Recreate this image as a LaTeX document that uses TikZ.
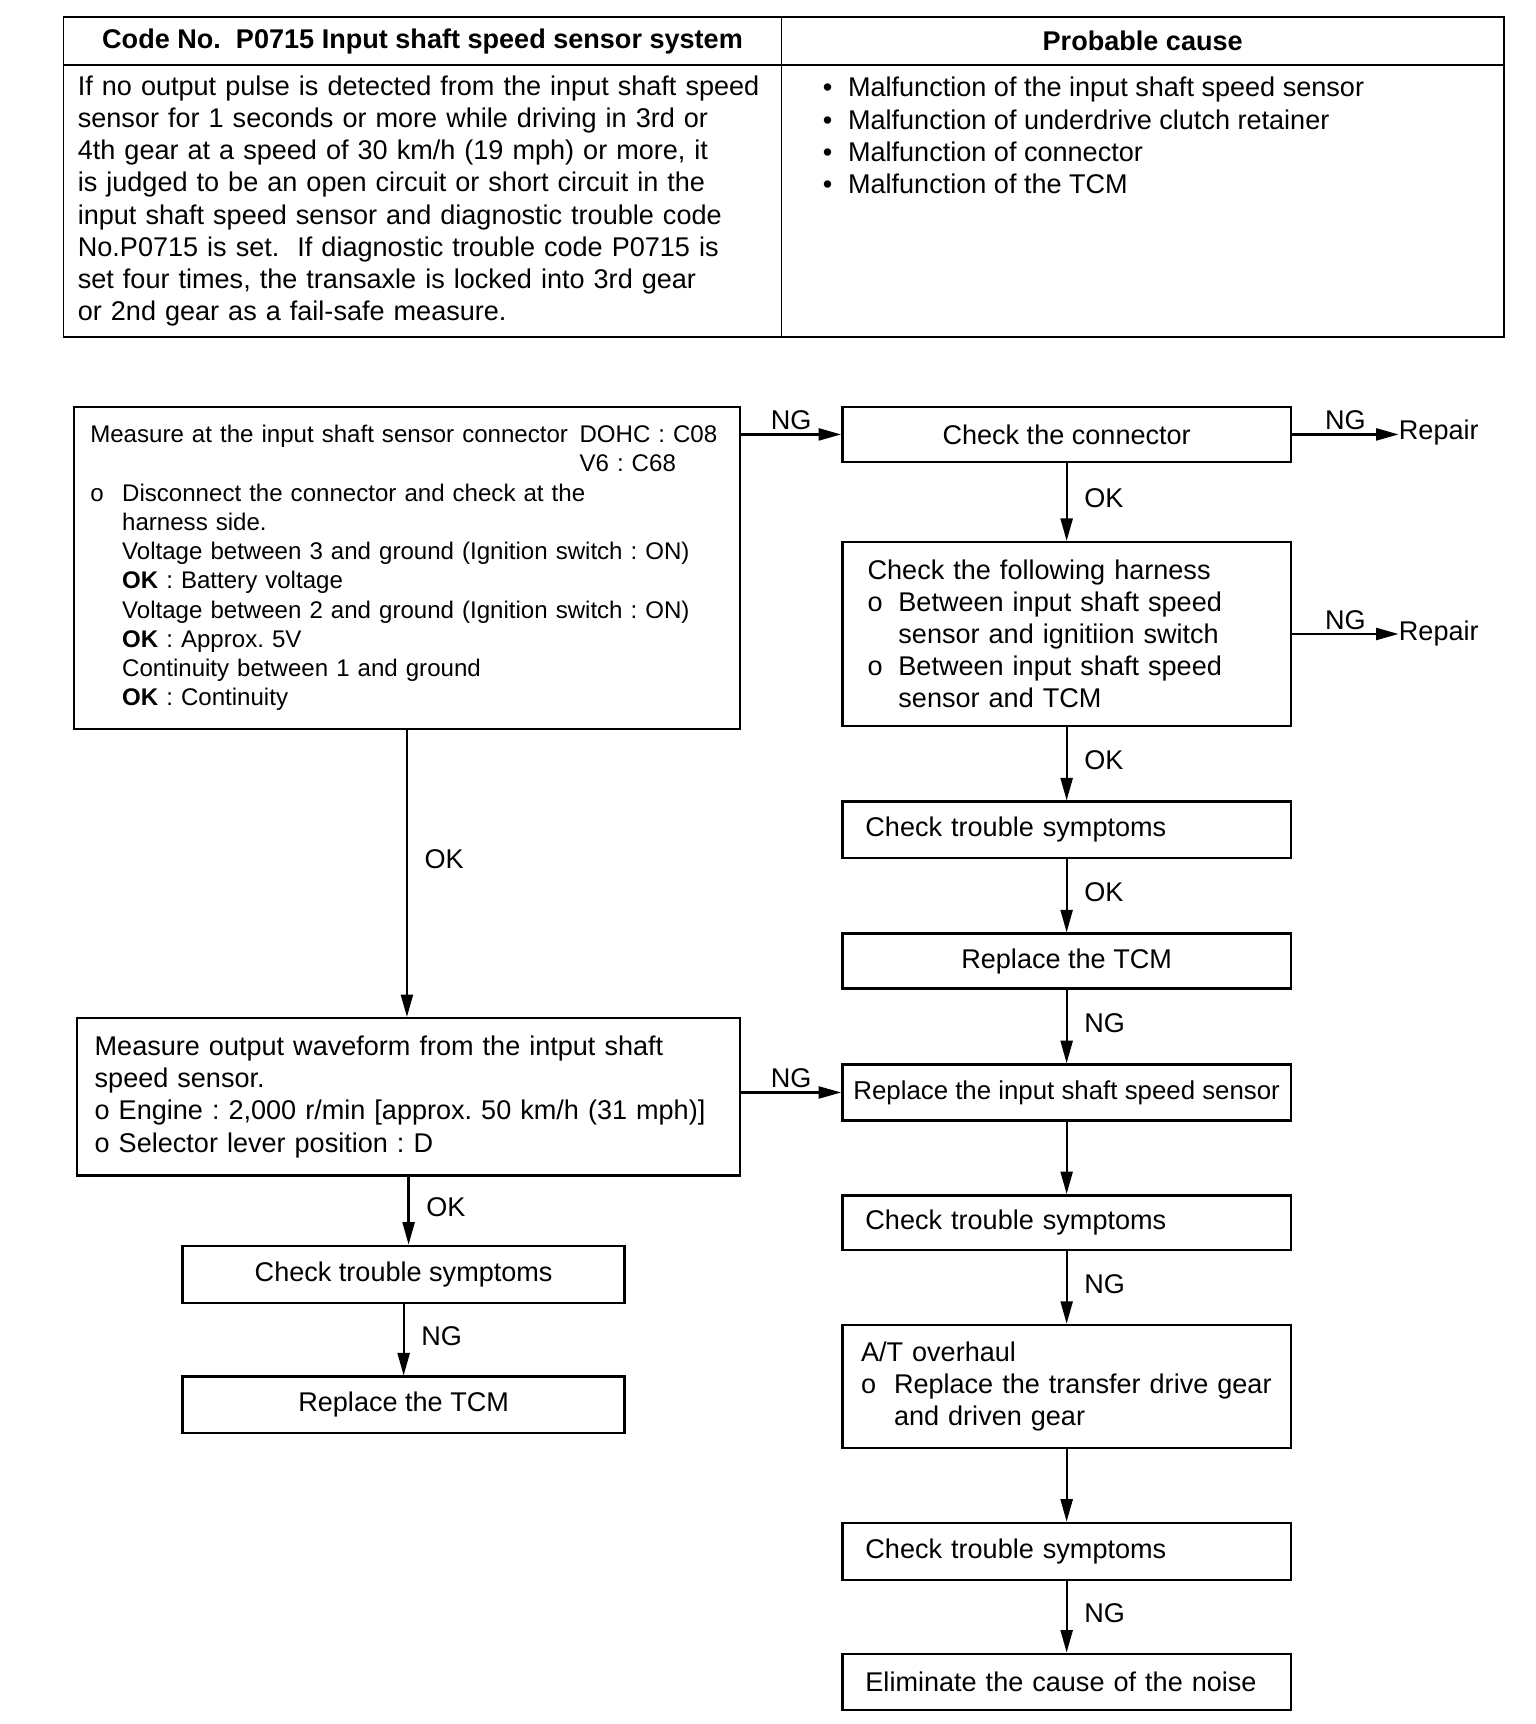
\documentclass[tikz,border=0pt]{standalone}
\usepackage{fontspec}
\setmainfont{Liberation Sans}
\usepackage{tikz}
\usetikzlibrary{arrows.meta, positioning}
\newlength{\pxu}
\setlength{\pxu}{0.2199mm}
\newcommand{\chartfont}{\fontsize{15.4}{18.3}\selectfont}
\newcommand{\smallchart}{\fontsize{13.7}{16.65}\selectfont}
\tikzset{
    chart/.style={x=0.2199mm, y=-0.2199mm, font=\chartfont},
    chart cell/.style={draw, line width=1pt, anchor=north west, inner sep=0pt},
    chart box/.style={draw, line width=1.4pt, anchor=north west, inner sep=0pt,
        minimum width=408\pxu, minimum height=50\pxu},
    chart arrow/.style={-{Triangle[length=4.5mm, width=2.4mm]}, line width=1.3pt},
    chart label/.style={inner sep=2pt},
}

\begin{document}
\frenchspacing
\begin{tikzpicture}[
    chart,
    centre/.style={chart box, align=center},
    ragged/.style={chart box, align=left, inner xsep=21\pxu, text width=366\pxu},
    okng/.style={chart label, right, xshift=2.6mm, pos=0.45},
  ]
    \useasboundingbox (0,0) rectangle (1397,1568);

    % code table
    \node[chart cell, minimum width=653\pxu, minimum height=43\pxu, font=\chartfont\bfseries] (hdcode) at (57,15) {Code No.\ \ P0715 Input shaft speed sensor system};
    \node[chart cell, minimum width=657\pxu, minimum height=43\pxu, font=\chartfont\bfseries] (hdcause) at (710,15) {Probable cause};
    \node[chart cell, minimum width=653\pxu, minimum height=248\pxu, align=left, text width=627\pxu, inner xsep=13\pxu] (descr) at (57,58) {If no output pulse is detected from the input shaft speed\\
      sensor for 1 seconds or more while driving in 3rd or\\
      4th gear at a speed of 30 km/h (19 mph) or more, it\\
      is judged to be an open circuit or short circuit in the\\
      input shaft speed sensor and diagnostic trouble code\\
      No.P0715 is set.\ \ If diagnostic trouble code P0715 is\\
      set four times, the transaxle is locked into 3rd gear\\
      or 2nd gear as a fail-safe measure.};
    \node[chart cell, minimum width=657\pxu, minimum height=248\pxu] (causebox) at (710,58) {};
    \node[anchor=north west, inner sep=0pt, align=left] (causes) at (748,70) {\makebox[23\pxu][l]{\textbullet}Malfunction of the input shaft speed sensor\\
      \makebox[23\pxu][l]{\textbullet}Malfunction of underdrive clutch retainer\\
      \makebox[23\pxu][l]{\textbullet}Malfunction of connector\\
      \makebox[23\pxu][l]{\textbullet}Malfunction of the TCM};

    % left column
    \node[chart box, align=left, minimum width=606\pxu, minimum height=293\pxu, inner xsep=15\pxu, text width=576\pxu, font=\smallchart] (connmeas) at (66,369) {\makebox[445\pxu][l]{Measure at the input shaft sensor connector}DOHC : C08\\
      \hspace*{445\pxu}V6 : C68\\
      \makebox[29\pxu][l]{o}Disconnect the connector and check at the\\
      \hspace*{29\pxu}harness side.\\
      \hspace*{29\pxu}Voltage between 3 and ground (Ignition switch : ON)\\
      \hspace*{29\pxu}\textbf{OK} : Battery voltage\\
      \hspace*{29\pxu}Voltage between 2 and ground (Ignition switch : ON)\\
      \hspace*{29\pxu}\textbf{OK} : Approx. 5V\\
      \hspace*{29\pxu}Continuity between 1 and ground\\
      \hspace*{29\pxu}\textbf{OK} : Continuity};
    \node[chart box, align=left, minimum width=603\pxu, minimum height=143\pxu, inner xsep=16\pxu, text width=571\pxu] (wavemeas) at (69,925) {Measure output waveform from the intput shaft\\
      speed sensor.\\
      o Engine : 2,000 r/min [approx. 50 km/h (31 mph)]\\
      o Selector lever position : D};
    \node[centre, minimum width=402\pxu, minimum height=52\pxu] (symptD) at (165,1132) {Check trouble symptoms};
    \node[centre, minimum width=402\pxu, minimum height=51\pxu] (tcmB) at (165,1251) {Replace the TCM};

    % right column
    \node[centre] (chkconn) at (765,369) {Check the connector};
    \node[ragged, minimum height=167\pxu, inner xsep=23\pxu, text width=362\pxu] (chkharn) at (765,492) {Check the following harness\\
      \makebox[28\pxu][l]{o}Between input shaft speed\\
      \hspace*{28\pxu}sensor and ignitiion switch\\
      \makebox[28\pxu][l]{o}Between input shaft speed\\
      \hspace*{28\pxu}sensor and TCM};
    \node[ragged, minimum height=51\pxu] (symptA) at (765,728) {Check trouble symptoms};
    \node[centre] (tcmA) at (765,848) {Replace the TCM};
    \node[centre, minimum height=51\pxu, font=\fontsize{14.7}{18.3}\selectfont] (sensor) at (765,967) {Replace the input shaft speed sensor};
    \node[ragged] (symptB) at (765,1086) {Check trouble symptoms};
    \node[ragged, minimum height=112\pxu, inner xsep=17\pxu, text width=374\pxu] (overhaul) at (765,1204) {A/T overhaul\\
      \makebox[30\pxu][l]{o}\mbox{Replace the transfer drive gear}\\
      \hspace*{30\pxu}and driven gear};
    \node[ragged, minimum height=52\pxu] (symptC) at (765,1384) {Check trouble symptoms};
    \node[ragged, minimum height=51\pxu] (noise) at (765,1503) {Eliminate the cause of the noise};

    \node[anchor=west, inner sep=0pt] (repairA) at (1272,393) {Repair};
    \node[anchor=west, inner sep=0pt] (repairB) at (1272,576) {Repair};

    % connectors
    \draw[chart arrow] (connmeas.east |- chkconn.west) -- node[chart label, above] {NG} (chkconn.west);
    \draw[chart arrow] (chkconn.east) -- node[chart label, above] {NG} (chkconn.east -| repairA.west);
    \draw[chart arrow] (chkconn.south) -- node[okng] {OK} (chkharn.north);
    \draw[chart arrow] (chkharn.east) -- node[chart label, above] {NG} (chkharn.east -| repairB.west);
    \draw[chart arrow] (chkharn.south) -- node[okng] {OK} (symptA.north);
    \draw[chart arrow] (symptA.south) -- node[okng] {OK} (tcmA.north);
    \draw[chart arrow] (tcmA.south) -- node[okng] {NG} (sensor.north);
    \draw[chart arrow] (wavemeas.east |- sensor.west) -- node[chart label, above] {NG} (sensor.west);
    \draw[chart arrow] (sensor.south) -- (symptB.north);
    \draw[chart arrow] (symptB.south) -- node[okng] {NG} (overhaul.north);
    \draw[chart arrow] (overhaul.south) -- (symptC.north);
    \draw[chart arrow] (symptC.south) -- node[okng] {NG} (noise.north);
    \draw[chart arrow] (connmeas.south) -- node[okng] {OK} (connmeas.south |- wavemeas.north);
    \draw[chart arrow] (wavemeas.south) -- node[okng] {OK} (wavemeas.south |- symptD.north);
    \draw[chart arrow] (symptD.south) -- node[okng] {NG} (tcmB.north);
\end{tikzpicture}
\end{document}
